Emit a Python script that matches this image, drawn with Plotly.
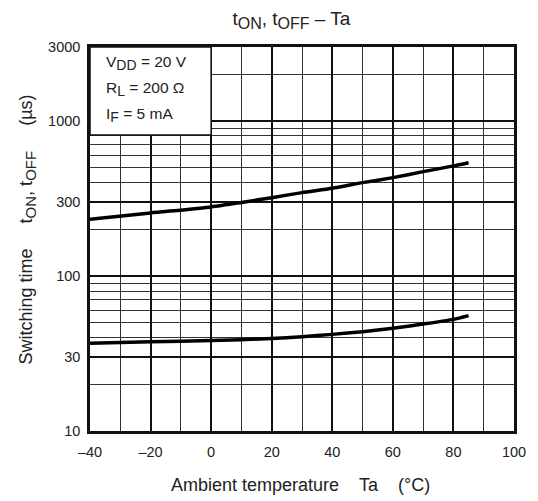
import plotly.graph_objects as go

# Data
temp_toff = [-40, -20, 0, 10, 20, 30, 40, 50, 60, 70, 80, 85]
toff = [232, 255, 279, 298, 320, 345, 368, 400, 431, 471, 513, 538]

temp_ton = [-40, -20, 0, 20, 30, 40, 50, 60, 70, 80, 85]
ton = [36.8, 37.6, 38.3, 39.5, 40.6, 42.0, 43.7, 46.0, 49.0, 52.5, 55.5]

y_major = [10, 30, 100, 300, 1000, 3000]
y_minor = [20, 40, 50, 60, 70, 80, 90, 200, 400, 500, 600, 700, 800, 900, 2000]
x_major = [-40, -20, 0, 20, 40, 60, 80, 100]
x_labels = ["\u201340", "\u201320", "0", "20", "40", "60", "80", "100"]

FONT = "Liberation Sans, Arial, sans-serif"
SP = "\u00a0"


def sub(s, size):
    return "<sub><span style='font-size:%dpx'>%s</span></sub>" % (size, s)


fig = go.Figure()
for xs, ys in [(temp_toff, toff), (temp_ton, ton)]:
    fig.add_trace(go.Scatter(x=xs, y=ys, mode="lines",
                             line=dict(color="black", width=3.5, shape="spline", smoothing=0.6),
                             showlegend=False, hoverinfo="skip"))

fig.update_layout(
    width=538, height=501,
    margin=dict(l=90, r=21, t=47, b=70),
    paper_bgcolor="white", plot_bgcolor="white",
    font=dict(family=FONT, size=14.5, color="#222"),
    title=dict(text="t" + sub("ON", 16) + ", t" + sub("OFF", 16) + " \u2013 Ta",
               x=0.475, xref="paper",
               xanchor="center", y=0.963, yanchor="middle",
               font=dict(size=19, color="#222", family=FONT)),
    xaxis=dict(range=[-40, 100], tickvals=x_major, ticktext=x_labels,
               showgrid=True, gridcolor="#111", gridwidth=2,
               minor=dict(dtick=10, tick0=0, showgrid=True, gridcolor="#333", gridwidth=1, ticks=""),
               showline=True, linecolor="#111", linewidth=2.5, mirror=True,
               ticks="", ticklabelstandoff=6, zeroline=False,
               tickfont=dict(size=14.5, color="#222")),
    yaxis=dict(type="log", range=[1, 3.4771], tickvals=y_major,
               ticktext=[str(v) for v in y_major],
               showgrid=True, gridcolor="#111", gridwidth=2,
               minor=dict(tickvals=y_minor, showgrid=True, gridcolor="#333", gridwidth=1, ticks=""),
               showline=True, linecolor="#111", linewidth=2.5, mirror=True,
               ticks="", ticklabelstandoff=4, zeroline=False,
               tickfont=dict(size=14.5, color="#222")),
)

# condition box
fig.add_shape(type="rect", xref="x", yref="paper", x0=-40, x1=0, y0=0.771, y1=1,
              fillcolor="white", line=dict(color="#111", width=1.5), layer="above")
conds = ["V" + sub("DD", 14) + " = 20 V", "R" + sub("L", 14) + " = 200 \u03a9",
         "I" + sub("F", 14) + " = 5 mA"]
for i, t in enumerate(conds):
    fig.add_annotation(text=t, xref="paper", yref="paper",
                       x=(104 - 90) / 427, y=(431 - (63 + 26 * i)) / 384,
                       xanchor="left", yanchor="middle", showarrow=False,
                       font=dict(size=15.5, color="#222", family=FONT))

fig.add_annotation(text="Ambient temperature" + SP * 4 + "Ta" + SP * 4 + "(\u00b0C)",
                   xref="paper", yref="paper",
                   x=(302 - 90) / 427, y=(431 - 485) / 384, xanchor="center", yanchor="middle",
                   showarrow=False, font=dict(size=18, color="#222", family=FONT))
fig.add_annotation(text="Switching time" + SP * 5 + "t" + sub("ON", 15) + ", t" + sub("OFF", 15)
                   + SP * 5 + "(\u00b5s)",
                   xref="paper", yref="paper", textangle=-90,
                   x=(27 - 90) / 427, y=(431 - 229) / 384, xanchor="center", yanchor="middle",
                   showarrow=False, font=dict(size=18, color="#222", family=FONT))

fig.write_html("out.html", config={"displayModeBar": False},
               post_script="document.body.style.margin='0';")
